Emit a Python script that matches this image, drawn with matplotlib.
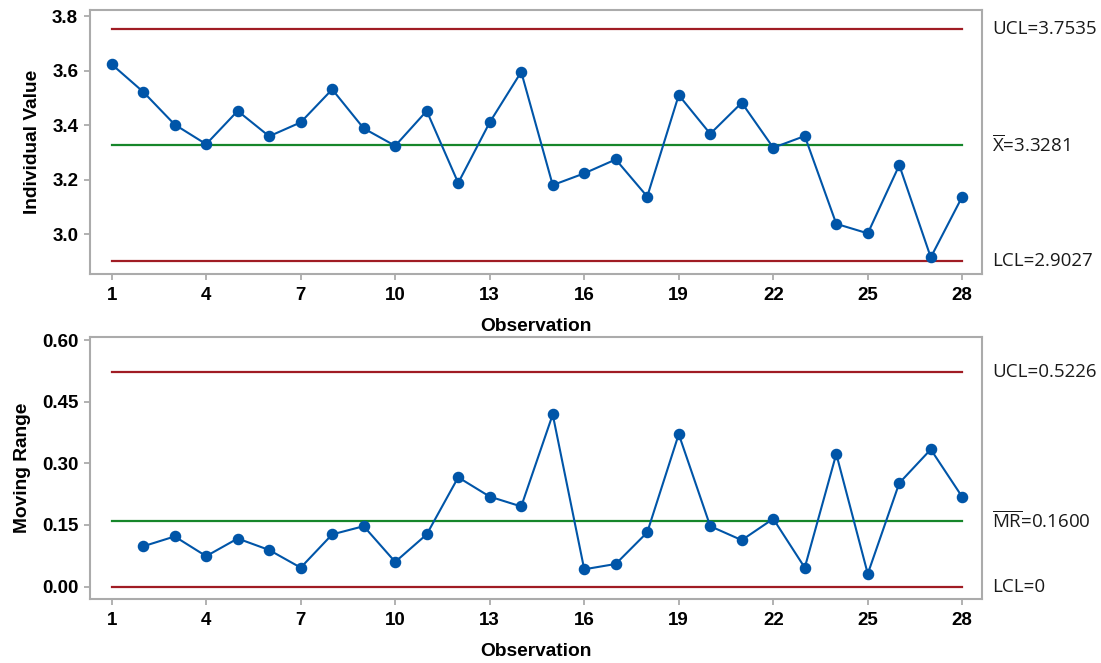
import matplotlib
matplotlib.use("Agg")
import matplotlib.pyplot as plt

plt.rcParams['font.family'] = ['Liberation Sans', 'DejaVu Sans']
plt.rcParams['mathtext.fontset'] = 'custom'
plt.rcParams['mathtext.rm'] = 'Open Sans'

# I-MR chart data
observations = list(range(1, 29))
individual = [3.623, 3.522, 3.402, 3.330, 3.452, 3.359, 3.410, 3.531, 3.388, 3.324,
              3.452, 3.188, 3.410, 3.595, 3.180, 3.223, 3.274, 3.138, 3.510, 3.368,
              3.482, 3.317, 3.360, 3.038, 3.003, 3.253, 2.915, 3.138]
mr_obs = list(range(2, 29))
moving_range = [0.098, 0.122, 0.074, 0.117, 0.089, 0.046, 0.127, 0.147, 0.060,
                0.127, 0.266, 0.219, 0.195, 0.419, 0.042, 0.055, 0.132, 0.371,
                0.147, 0.113, 0.165, 0.046, 0.323, 0.031, 0.252, 0.334, 0.218]

i_limits = {'UCL': 3.7535, 'CL': 3.3281, 'LCL': 2.9027}
mr_limits = {'UCL': 0.5226, 'CL': 0.1600, 'LCL': 0.0}
i_labels = ['UCL=3.7535', r'$\overline{\mathrm{X}}$=3.3281', 'LCL=2.9027']
mr_labels = ['UCL=0.5226', r'$\overline{\mathrm{MR}}$=0.1600', 'LCL=0']

x_ticks = [1, 4, 7, 10, 13, 16, 19, 22, 25, 28]

RED = '#A01C24'
GREEN = '#16862A'
BLUE = '#0055A8'
SPINE = '#ABABAB'

fig = plt.figure(figsize=(11.01, 6.63), dpi=100)
ax1 = fig.add_axes([0.0817, 0.5863, 0.8102, 0.3982])
ax2 = fig.add_axes([0.0817, 0.0961, 0.8102, 0.3952])


def draw_panel(ax, xs, ys, limits, labels, ylim, yticks, ytick_fmt, ylabel):
    for key, color in (('UCL', RED), ('CL', GREEN), ('LCL', RED)):
        ax.plot([observations[0], observations[-1]], [limits[key]] * 2,
                color=color, lw=1.6, zorder=2)
    ax.plot(xs, ys, color=BLUE, lw=1.5, marker='o', markersize=7.3,
            markerfacecolor=BLUE, markeredgecolor=BLUE, zorder=3)
    for key, text in zip(('UCL', 'CL', 'LCL'), labels):
        ax.text(1.0115, limits[key], text, transform=ax.get_yaxis_transform(),
                ha='left', va='center', fontsize=13.5, family='Open Sans',
                color='#1a1a1a')
    ax.set_xlim(0.311, 28.625)
    ax.set_ylim(*ylim)
    ax.set_xticks(x_ticks)
    ax.set_yticks(yticks)
    ax.set_yticklabels([ytick_fmt.format(v) for v in yticks])
    for lab in ax.get_xticklabels() + ax.get_yticklabels():
        lab.set_fontweight('bold')
        lab.set_fontsize(13.5)
    ax.tick_params(direction='out', length=4, width=1.3, color=SPINE)
    ax.tick_params(axis='x', pad=5.5)
    ax.tick_params(axis='y', pad=4.5)
    for sp in ax.spines.values():
        sp.set_color(SPINE)
        sp.set_linewidth(1.5)
    ax.set_xlabel('Observation', fontsize=13.8, fontweight='bold', labelpad=10)
    ax.set_ylabel(ylabel, fontsize=13.8, fontweight='bold', labelpad=8)


draw_panel(ax1, observations, individual, i_limits, i_labels,
           (2.853, 3.821), [3.0, 3.2, 3.4, 3.6, 3.8], '{:.1f}', 'Individual Value')
draw_panel(ax2, mr_obs, moving_range, mr_limits, mr_labels,
           (-0.031, 0.607), [0.0, 0.15, 0.30, 0.45, 0.60], '{:.2f}', 'Moving Range')

fig.savefig('out.png', dpi=100)
